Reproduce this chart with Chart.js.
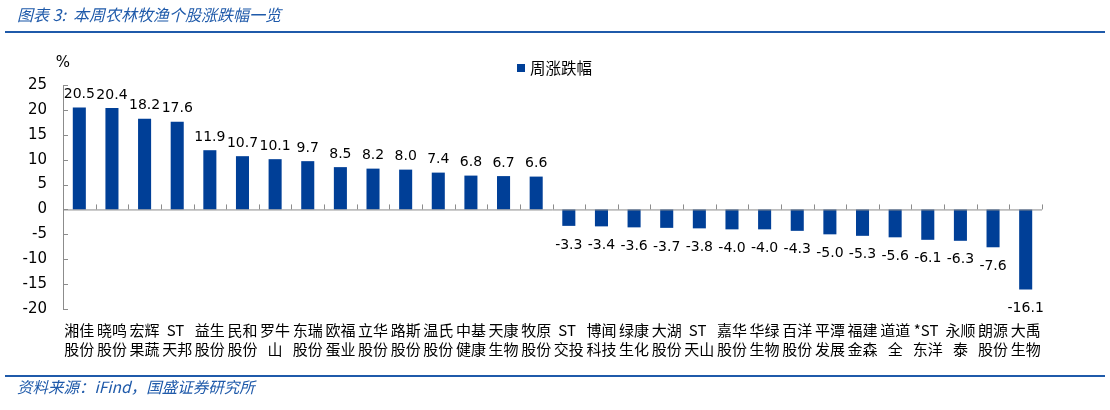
<!DOCTYPE html>
<html>
<head>
<meta charset="utf-8">
<script src="https://cdn.jsdelivr.net/npm/chart.js@4"></script>
<style>
  body { margin: 0; background: #fff; }
  #wrap { position: relative; width: 1110px; height: 410px; }
  #wrap canvas { position: absolute; left: 0; top: 0; }
  .cap { position: absolute; left: 17px; color: #1F5AAA; font-family: "Noto Sans CJK SC"; font-style: italic; }
  .rule { position: absolute; left: 5px; width: 1100px; height: 2px; background: #1F5AAA; }
</style>
</head>
<body>
<div id="wrap">
  <canvas id="chart1" width="1110" height="410"></canvas>
  <div class="cap" style="top:2px; font-size:16px">图表 3:&nbsp; 本周农林牧渔个股涨跌幅一览</div>
  <div class="rule" style="top:31px"></div>
  <div class="rule" style="top:375px"></div>
  <div class="cap" style="top:375px; font-size:15.5px">资料来源：iFind，国盛证券研究所</div>
</div>
<script>
const names = [
  ["湘佳", "股份"], ["晓鸣", "股份"], ["宏辉", "果蔬"], ["ST ", "天邦"], ["益生", "股份"],
  ["民和", "股份"], ["罗牛", "山"], ["东瑞", "股份"], ["欧福", "蛋业"], ["立华", "股份"],
  ["路斯", "股份"], ["温氏", "股份"], ["中基", "健康"], ["天康", "生物"], ["牧原", "股份"],
  ["ST ", "交投"], ["博闻", "科技"], ["绿康", "生化"], ["大湖", "股份"], ["ST ", "天山"],
  ["嘉华", "股份"], ["华绿", "生物"], ["百洋", "股份"], ["平潭", "发展"], ["福建", "金森"],
  ["道道", "全"], ["*ST ", "东洋"], ["永顺", "泰"], ["朗源", "股份"], ["大禹", "生物"]
];
const weekChange = [
  20.5, 20.4, 18.2, 17.6, 11.9, 10.7, 10.1, 9.7, 8.5, 8.2,
  8.0, 7.4, 6.8, 6.7, 6.6, -3.3, -3.4, -3.6, -3.7, -3.8,
  -4.0, -4.0, -4.3, -5.0, -5.3, -5.6, -6.1, -6.3, -7.6, -16.1
];
const yTicks = [25, 20, 15, 10, 5, 0, -5, -10, -15, -20];

const axisGray = "#8c8c8c";

// axis lines, inward ticks, value labels, legend and the % unit
const axesPlugin = {
  id: "axes",
  afterDatasetsDraw(chart) {
    const c = chart.ctx;
    const x = chart.scales.x, y = chart.scales.y;
    const area = chart.chartArea;
    const zero = y.getPixelForValue(0);
    c.save();
    c.strokeStyle = axisGray;
    c.lineWidth = 1;
    c.beginPath();
    c.moveTo(area.left + 0.5, area.top);
    c.lineTo(area.left + 0.5, area.bottom);
    c.moveTo(area.left, zero + 0.5);
    c.lineTo(area.right, zero + 0.5);
    yTicks.forEach(v => {
      const py = Math.round(y.getPixelForValue(v)) + 0.5;
      c.moveTo(area.left, py);
      c.lineTo(area.left + 5, py);
    });
    for (let i = 1; i <= names.length; i++) {
      const px = Math.round(x.getPixelForValue(i - 0.5)) + 0.5;
      c.moveTo(px, zero);
      c.lineTo(px, zero - 5);
    }
    c.stroke();

    c.fillStyle = "#000";
    c.font = "14px 'DejaVu Sans'";
    c.textAlign = "center";
    const meta = chart.getDatasetMeta(0);
    meta.data.forEach((bar, i) => {
      const v = weekChange[i];
      if (v >= 0) {
        c.textBaseline = "bottom";
        c.fillText(v.toFixed(1), bar.x, bar.y - 6);
      } else {
        c.textBaseline = "top";
        c.fillText(v.toFixed(1), bar.x, bar.y + 12);
      }
    });
    c.textBaseline = "bottom";
    c.font = "15px 'DejaVu Sans'";
    c.fillText("%", area.left, area.top - 14);

    // legend
    const ds = chart.data.datasets[0];
    c.fillStyle = ds.backgroundColor;
    c.fillRect(517, 64, 8, 8);
    c.fillStyle = "#000";
    c.textAlign = "left";
    c.textBaseline = "middle";
    c.font = "15.5px 'Noto Sans CJK SC'";
    c.fillText(ds.label, 530, 68);
    c.restore();
  }
};

new Chart(document.getElementById("chart1"), {
  type: "bar",
  data: {
    labels: names,
    datasets: [{
      label: "周涨跌幅",
      data: weekChange,
      backgroundColor: "#003F97",
      barPercentage: 0.8,
      categoryPercentage: 0.5
    }]
  },
  options: {
    responsive: false,
    animation: false,
    layout: { padding: { top: 85, right: 68, bottom: 40, left: 0 } },
    plugins: {
      legend: { display: false },
      tooltip: { enabled: false }
    },
    scales: {
      x: {
        grid: { display: false },
        border: { display: false },
        ticks: {
          color: "#000",
          autoSkip: false,
          maxRotation: 0,
          padding: 4,
          font: { family: "'Noto Sans CJK SC'", size: 15, lineHeight: 1.25 }
        },
        afterFit(scale) { scale.height = 61; }
      },
      y: {
        min: -20,
        max: 25,
        grid: { display: false },
        border: { display: false },
        ticks: {
          stepSize: 5,
          color: "#000",
          padding: 8,
          font: { family: "'DejaVu Sans'", size: 15 }
        },
        afterFit(scale) { scale.width = 63; }
      }
    }
  },
  plugins: [axesPlugin]
});
</script>
</body>
</html>
